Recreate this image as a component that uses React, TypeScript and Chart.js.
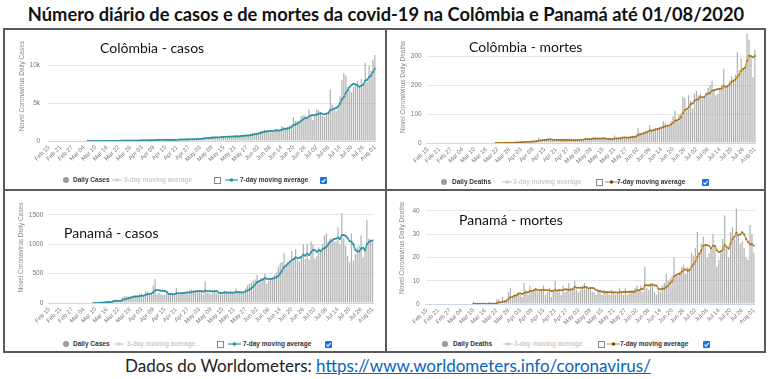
import React, { useEffect, useRef } from "react";
import { Chart, registerables } from "chart.js";
Chart.register(...registerables);

// ---------- categories ----------
const MONTH_SPANS: [string, number, number][] = [
  ["Feb", 15, 29], ["Mar", 1, 31], ["Apr", 1, 30], ["May", 1, 31], ["Jun", 1, 30], ["Jul", 1, 31], ["Aug", 1, 1],
];
const DATES: string[] = [];
MONTH_SPANS.forEach(([m, a, b]) => {
  for (let d = a; d <= b; d++) DATES.push(m + " " + (d < 10 ? "0" + d : String(d)));
});

const X_TICK_LABELS = [
  "Feb 15", "Feb 21", "Feb 27", "Mar 04", "Mar 10", "Mar 16", "Mar 22", "Mar 28", "Apr 03", "Apr 09",
  "Apr 15", "Apr 21", "Apr 27", "May 03", "May 09", "May 15", "May 21", "May 27", "Jun 02", "Jun 08",
  "Jun 14", "Jun 20", "Jun 26", "Jul 02", "Jul 08", "Jul 14", "Jul 20", "Jul 26", "Aug 01",
];

// ---------- Colombia cases ----------
const COL_CASES = [
  0,0,0,0,0,0,0,0,0,0,0,0,0,0,0,
  0,0,0,0,0,1,0,0,2,0,6,0,4,8,15,21,8,37,26,59,14,40,75,72,91,10,22,69,96,24,108,
  94,137,60,110,121,74,100,89,175,208,274,98,178,62,65,145,183,166,202,205,127,246,242,215,214,234,220,207,271,181,
  368,379,336,380,495,431,422,443,595,451,524,389,567,661,680,666,470,586,470,595,752,705,693,726,811,683,709,758,1033,1046,1109,
  1087,1138,1322,1205,1515,1432,1300,1156,1442,1350,1571,1465,1380,2008,1840,1538,1828,2037,2150,3171,2632,2712,2554,3274,3389,3447,3179,4149,3520,2748,
  3300,4163,4038,3745,3290,3172,3384,3983,6744,4800,4400,3900,4600,5900,8000,8900,8600,7100,6700,6400,7100,7400,7900,7300,8200,7500,10300,7800,9900,9200,10700,
  11300,
];
const COL_CASES_MA = [
  null,null,null,null,null,null,null,null,null,null,null,null,null,null,null,
  null,null,null,null,null,0.1,0.1,0.1,0.4,0.4,1.3,1.3,1.7,2.9,5,7.7,8.9,13.3,17,24.9,25.7,29.3,37,46,54,52,46,54,62,55,60,
  60,79,84,90,93,101,99,99,104,125,149,145,160,155,151,147,144,128,143,147,156,182,196,200,207,212,214,225,229,220,
  242,266,280,303,344,367,402,412,443,460,480,465,484,519,552,563,565,574,586,590,603,606,610,647,679,709,726,726,773,824,878,
  918,983,1070,1134,1203,1258,1286,1295,1339,1343,1395,1388,1381,1482,1579,1593,1661,1728,1826,2082,2171,2295,2441,2647,2840,3026,3027,3243,3359,3387,
  3390,3501,3585,3666,3543,3494,3585,3682,4051,4160,4253,4340,4544,4904,5478,5786,6329,6714,7114,7371,7543,7457,7314,7129,7286,7400,7957,8057,8414,8600,9086,
  9529,
];

// ---------- Colombia deaths ----------
const COL_DEATHS = [
  0,0,0,0,0,0,0,0,0,0,0,0,0,0,0,
  0,0,0,0,0,0,0,0,0,0,0,0,0,0,0,0,0,0,0,0,1,1,1,0,0,3,0,0,0,3,4,
  2,3,6,3,5,6,4,4,8,8,8,20,10,11,12,10,14,13,9,8,6,13,15,10,11,10,7,8,9,12,
  14,10,14,11,13,19,13,11,16,21,16,13,17,13,15,15,11,14,14,14,26,15,16,18,23,20,16,19,24,26,20,
  30,52,36,33,38,43,40,62,45,49,51,48,55,57,75,68,60,58,76,93,111,80,97,102,160,155,110,165,146,118,
  170,180,165,170,150,160,175,190,200,215,185,165,170,185,200,256,195,200,212,230,210,235,314,250,293,255,262,377,356,302,227,
  322,
];
const COL_DEATHS_MA = [
  null,null,null,null,null,null,null,null,null,null,null,null,null,null,null,
  null,null,null,null,null,null,null,null,null,null,null,null,null,null,null,null,null,null,null,null,0.1,0.3,0.4,0.4,0.4,0.9,0.9,0.7,0.6,0.9,1.4,
  1.7,1.7,2.6,3,3.7,4.1,4.1,4.4,5.1,5.4,6.1,8.3,8.9,9.9,11,11.3,12.1,12.9,11.3,11,10.3,10.4,11.1,10.6,10.3,10.4,10.3,10.6,10,9.6,
  10.1,10,10.6,11.1,11.9,13.3,13.4,13,13.9,14.9,15.6,15.6,15.3,15.3,15.9,15.7,14.3,14,14.1,13.7,15.6,15.6,15.7,16.7,18,18.9,19.1,18.1,19.4,20.9,21.1,
  22.1,26.7,29.6,31.6,33.6,36,38.9,43.4,42.4,44.3,46.9,48.3,50,52.4,54.3,57.6,59.1,60.1,64.1,69.6,77.3,78,82.1,88.1,102.7,114,116.4,124.1,133.6,136.6,
  146.3,149.1,150.6,159.1,157,159,167.1,170,172.9,180,182.1,184.3,185.7,187.1,188.6,196.6,193.7,195.9,202.6,211.1,214.7,219.7,228,235.9,249.1,255.3,259.9,283.7,301,299.3,296,
  300.1,
];

// ---------- Panama cases ----------
const PAN_CASES = [
  0,0,0,0,0,0,0,0,0,0,0,0,0,0,0,
  0,0,0,0,0,0,0,0,1,7,6,13,16,12,14,40,7,32,49,63,45,32,32,98,115,115,112,112,112,96,124,
  106,154,165,115,201,190,148,150,295,410,150,171,150,140,145,170,160,150,140,130,255,150,170,180,165,190,160,230,225,215,
  200,180,195,190,140,365,180,170,150,200,200,170,175,160,150,210,190,185,180,160,165,245,175,170,160,200,250,300,330,350,380,
  400,477,360,420,420,500,330,380,420,440,480,520,620,680,700,846,620,700,720,880,760,920,720,700,800,1000,750,1005,740,1050,
  1000,760,800,950,870,1000,1150,1190,1050,1100,1100,1050,1050,1290,1000,1530,1100,980,800,700,1190,720,830,950,980,1150,780,900,1420,1100,1080,
  1040,
];
const PAN_CASES_MA = [
  null,null,null,null,null,null,null,null,null,null,null,null,null,null,null,
  null,null,null,null,null,null,null,null,0.1,1.1,2,3.9,6.1,7.9,9.9,15.4,15.4,19.1,24.3,31,35.7,38.3,37.1,50.1,62,71.4,78.4,88,99.4,108.6,112.3,
  111,116.6,124.1,124.6,137.3,150.7,154.1,160.4,180.6,215.6,220.6,216.3,210.6,209.4,208.7,190.9,155.1,155.1,150.7,147.9,164.3,165,165,167.9,170,177.1,181.4,177.9,188.6,195,
  197.9,200,200.7,205,192.1,212.1,207.1,202.9,198.6,199.3,200.7,205,177.9,175,172.1,180.7,179.3,177.1,178.6,176.4,177.1,190.7,185.7,182.9,179.3,182.1,195,214.3,226.4,251.4,281.4,
  315.7,355.3,371,388.1,401,422.4,415.3,412.4,404.3,415.7,424.3,438.6,455.7,505.7,551.4,612.3,638,669.4,698,735.1,746.6,778,760,771.4,785.7,825.7,807.1,842.1,816.4,863.6,
  906.4,900.7,872.1,900.7,881.4,918.6,932.9,960,1001.4,1044.3,1065.7,1090,1097.1,1117.1,1090,1158.6,1158.6,1141.4,1105.7,1055.7,1041.4,1001.4,901.4,880,880,930,941.4,900,1000,1038.6,1057.1,
  1065.7,
];

// ---------- Panama deaths ----------
const PAN_DEATHS = [
  0,0,0,0,0,0,0,0,0,0,0,0,0,0,0,
  0,0,0,0,0,0,0,0,0,1,0,0,0,0,0,0,0,1,0,0,0,2,2,0,3,1,2,5,7,3,4,
  4,5,4,3,9,6,4,8,5,6,7,5,6,6,8,4,5,7,3,6,10,5,6,4,8,5,6,9,6,7,
  10,6,5,6,8,9,7,6,7,5,5,4,6,6,4,6,5,5,4,6,5,4,5,7,5,4,7,4,5,5,6,
  7,8,6,8,5,16,7,6,9,8,5,4,7,5,8,9,13,10,11,12,20,12,12,14,16,17,13,16,15,22,
  21,24,31,22,26,29,25,20,22,24,30,25,16,19,22,28,38,24,20,31,33,28,41,30,26,27,24,20,19,34,30,
  22,
];
const PAN_DEATHS_MA = [
  null,null,null,null,null,null,null,null,null,null,null,null,null,null,null,
  null,null,null,null,null,null,null,null,null,0.1,0.1,0.1,0.1,0.1,0.1,0.1,0,0.1,0.1,0.1,0.1,0.4,0.7,0.7,1,1.1,1.4,2.1,2.9,3,3.6,
  3.7,4.3,4.6,4.3,4.6,5,5,5.6,5.6,5.9,6.4,5.9,5.9,6.1,6.1,6,5.9,5.9,5.6,5.6,6.1,5.7,6,5.9,6,6.3,6.3,6.1,6.3,6.4,
  7.3,7,7,7,6.9,7.3,7.3,6.7,6.9,6.9,6.7,6.1,5.7,5.6,5.3,5.1,5.1,5.1,5.1,5.1,5,5,4.9,5.1,5.1,5.1,5.3,5.1,5.3,5.3,5.1,
  5.4,6,5.9,6.4,6.4,8,8.1,8,8.1,8.4,8,7.9,6.6,6.3,6.6,6.6,7.3,8,9,9.7,11.9,12.4,12.9,13,13.9,14.7,14.9,14.3,14.7,16.1,
  17.1,18.3,20.3,21.6,23,25,25.4,25.3,25,24,25.1,25,23.1,22.3,22.6,23.4,25.4,24.6,23.9,26,28,28.9,30.7,29.6,29.9,30.9,29.9,28,26.7,25.7,25.7,
  25.1,
];

// ---------- y ticks ----------
const COL_CASES_Y_TICKS = [0, 5000, 10000];
const COL_CASES_Y_LABELS = ["0", "5k", "10k"];
const COL_DEATHS_Y_TICKS = [0, 100, 200, 300];
const COL_DEATHS_Y_LABELS = ["0", "100", "200", "300"];
const PAN_CASES_Y_TICKS = [0, 500, 1000, 1500];
const PAN_CASES_Y_LABELS = ["0", "500", "1000", "1500"];
const PAN_DEATHS_Y_TICKS = [0, 10, 20, 30, 40];
const PAN_DEATHS_Y_LABELS = ["0", "10", "20", "30", "40"];

const CASES_LINE = "#3ba2b5";
const CASES_POINT = "#2a8da1";
const DEATHS_LINE = "#e0a33c";
const DEATHS_POINT = "#8e6a2c";
const SMALL_FONT = "'Liberation Sans', Arial, sans-serif";
const LABEL_FONT = "Lato, 'Open Sans', sans-serif";

type PanelCfg = {
  left: number; top: number; width: number; height: number;
  yWidth: number; xHeight: number; padRight: number; yMax: number;
  yTicks: number[]; yLabels: string[]; yTitle: string; titleOffset: number; tickPad: number;
  daily: number[]; ma: (number | null)[]; lineColor: string; pointColor: string;
};

function ChartPanel({ c }: { c: PanelCfg }) {
  const ref = useRef<HTMLCanvasElement>(null);
  useEffect(() => {
    const chart = new Chart(ref.current as HTMLCanvasElement, {
      data: {
        labels: DATES,
        datasets: [
          {
            type: "line",
            data: c.ma as any,
            borderColor: c.lineColor,
            backgroundColor: c.pointColor,
            borderWidth: 1.6,
            pointRadius: 0.9,
            pointBorderWidth: 0,
            pointBackgroundColor: c.pointColor,
            tension: 0,
            order: 0,
          } as any,
          {
            type: "bar",
            data: c.daily,
            backgroundColor: "#b0b0b0",
            barPercentage: 0.62,
            categoryPercentage: 1,
            order: 1,
          } as any,
        ],
      },
      options: {
        animation: false,
        responsive: false,
        maintainAspectRatio: false,
        layout: { padding: { left: 0, right: c.padRight, top: 0, bottom: 0 } },
        plugins: { legend: { display: false }, tooltip: { enabled: false } },
        scales: {
          x: {
            type: "category",
            offset: true,
            grid: { display: false, drawTicks: false },
            border: { display: true, color: "#ccd6eb" },
            afterFit: (s: any) => { s.height = c.xHeight; },
            ticks: {
              autoSkip: false,
              minRotation: 45,
              maxRotation: 45,
              padding: 3,
              color: "#777",
              font: { family: SMALL_FONT, size: 6 },
              callback: (_v: any, i: number) => (X_TICK_LABELS.includes(DATES[i]) ? DATES[i] : ""),
            },
          },
          y: {
            min: 0,
            max: c.yMax,
            afterBuildTicks: (s: any) => { s.ticks = c.yTicks.map((v) => ({ value: v })); },
            afterFit: (s: any) => { s.width = c.yWidth; },
            grid: { color: "#e6e6e6", drawTicks: false },
            border: { display: false },
            ticks: {
              padding: c.tickPad,
              color: "#777",
              font: { family: SMALL_FONT, size: 6.5 },
              callback: (v: any) => {
                const k = c.yTicks.indexOf(Number(v));
                return k >= 0 ? c.yLabels[k] : "";
              },
            },
            title: {
              display: true,
              text: c.yTitle,
              color: "#888",
              font: { family: SMALL_FONT, size: 6.5 },
              padding: { top: c.titleOffset, bottom: 0 },
            },
          },
        },
      } as any,
    });
    return () => chart.destroy();
  }, []);
  return (
    <canvas
      ref={ref}
      width={c.width}
      height={c.height}
      style={{ position: "absolute", left: c.left, top: c.top, width: c.width, height: c.height }}
    />
  );
}

type LegendCfg = { y: number; xs: number[]; first: string; lineColor: string; markColor: string };

function Legend({ l }: { l: LegendCfg }) {
  const txt: React.CSSProperties = {
    position: "absolute", top: l.y - 4, lineHeight: "8px", fontFamily: SMALL_FONT,
    fontSize: 6.5, fontWeight: 700, whiteSpace: "nowrap",
  };
  return (
    <>
      <div style={{ position: "absolute", left: l.xs[0] - 3, top: l.y - 3, width: 6, height: 6, borderRadius: 3, background: "#9a9a9a" }} />
      <span style={{ ...txt, left: l.xs[1], color: "#333" }}>{l.first}</span>
      <svg style={{ position: "absolute", left: l.xs[2], top: l.y - 3 }} width={10} height={6}>
        <line x1={0} y1={3} x2={10} y2={3} stroke="#cccccc" strokeWidth={1.2} />
        <circle cx={5} cy={3} r={1.8} fill="#cccccc" />
      </svg>
      <span style={{ ...txt, left: l.xs[3], color: "#cccccc" }}>3-day moving average</span>
      <div style={{ position: "absolute", left: l.xs[4], top: l.y - 3, width: 5, height: 5, border: "1px solid #888", background: "#fff" }} />
      <svg style={{ position: "absolute", left: l.xs[5], top: l.y - 3 }} width={13} height={6}>
        <line x1={0} y1={3} x2={13} y2={3} stroke={l.lineColor} strokeWidth={1.3} />
        <circle cx={6.5} cy={3} r={1.8} fill={l.markColor} />
      </svg>
      <span style={{ ...txt, left: l.xs[6], color: "#333" }}>7-day moving average</span>
      <svg style={{ position: "absolute", left: l.xs[7], top: l.y - 3.5 }} width={7} height={7}>
        <rect x={0} y={0} width={7} height={7} rx={1} fill="#1f6fe0" />
        <path d="M1.5 3.6 L3 5.1 L5.6 2" stroke="#fff" strokeWidth={1.1} fill="none" />
      </svg>
    </>
  );
}

// chart-area top = canvas top + (tick label half-height 3.9 + tick padding)
const PANELS: PanelCfg[] = [
  {
    left: 6, top: 19, width: 377, height: 151, yWidth: 42, xHeight: 29, padRight: 6.5, yMax: 14487,
    yTicks: COL_CASES_Y_TICKS, yLabels: COL_CASES_Y_LABELS, yTitle: "Novel Coronavirus Daily Cases",
    titleOffset: 12, tickPad: 8, daily: COL_CASES, ma: COL_CASES_MA, lineColor: CASES_LINE, pointColor: CASES_POINT,
  },
  {
    left: 390, top: 22, width: 373, height: 148, yWidth: 36.7, xHeight: 27, padRight: 5.5, yMax: 386.6,
    yTicks: COL_DEATHS_Y_TICKS, yLabels: COL_DEATHS_Y_LABELS, yTitle: "Novel Coronavirus Daily Deaths",
    titleOffset: 9.4, tickPad: 5, daily: COL_DEATHS, ma: COL_DEATHS_MA, lineColor: DEATHS_LINE, pointColor: DEATHS_POINT,
  },
  {
    left: 6, top: 183, width: 377, height: 147, yWidth: 42.3, xHeight: 27, padRight: 9.4, yMax: 1893,
    yTicks: PAN_CASES_Y_TICKS, yLabels: PAN_CASES_Y_LABELS, yTitle: "Novel Coronavirus Daily Cases",
    titleOffset: 11.8, tickPad: 5, daily: PAN_CASES, ma: PAN_CASES_MA, lineColor: CASES_LINE, pointColor: CASES_POINT,
  },
  {
    left: 390, top: 182, width: 372, height: 148, yWidth: 35.7, xHeight: 26, padRight: 2, yMax: 48.2,
    yTicks: PAN_DEATHS_Y_TICKS, yLabels: PAN_DEATHS_Y_LABELS, yTitle: "Novel Coronavirus Daily Deaths",
    titleOffset: 8.1, tickPad: 6, daily: PAN_DEATHS, ma: PAN_DEATHS_MA, lineColor: DEATHS_LINE, pointColor: DEATHS_POINT,
  },
];

const LEGENDS: LegendCfg[] = [
  { y: 180, xs: [66, 73, 112, 124, 214, 225, 240, 320], first: "Daily Cases", lineColor: CASES_LINE, markColor: CASES_POINT },
  { y: 182, xs: [444, 452, 502, 513, 596, 605, 617, 702], first: "Daily Deaths", lineColor: DEATHS_LINE, markColor: "#6b4e1e" },
  { y: 344, xs: [66, 73, 114, 127, 217, 228, 243, 325], first: "Daily Cases", lineColor: CASES_LINE, markColor: CASES_POINT },
  { y: 344, xs: [445, 453, 503, 514, 598, 607, 620, 703], first: "Daily Deaths", lineColor: DEATHS_LINE, markColor: "#6b4e1e" },
];

const PANEL_LABELS = [
  { text: "Colômbia - casos", left: 100, top: 39 },
  { text: "Colômbia - mortes", left: 469, top: 38 },
  { text: "Panamá - casos", left: 64, top: 224 },
  { text: "Panamá - mortes", left: 459, top: 211 },
];

const BORDER = "#5a5a5a";

export default function App() {
  const line = (left: number, top: number, width: number, height: number) => (
    <div style={{ position: "absolute", left, top, width, height, background: BORDER }} />
  );
  return (
    <div style={{ position: "absolute", left: 0, top: 0, width: 768, height: 379, background: "#fff", overflow: "hidden" }}>
      <div
        style={{
          position: "absolute", left: 2, top: 2, width: 768, textAlign: "center", fontFamily: LABEL_FONT,
          fontWeight: 700, fontSize: 18.3, lineHeight: "24px", color: "#111", whiteSpace: "nowrap",
        }}
      >
        Número diário de casos e de mortes da covid-19 na Colômbia e Panamá até 01/08/2020
      </div>
      {PANELS.map((p, i) => <ChartPanel key={i} c={p} />)}
      {LEGENDS.map((l, i) => <Legend key={i} l={l} />)}
      {PANEL_LABELS.map((t, i) => (
        <div
          key={i}
          style={{
            position: "absolute", left: t.left, top: t.top, fontFamily: LABEL_FONT, fontSize: 14,
            lineHeight: "18px", color: "#111", whiteSpace: "nowrap",
          }}
        >
          {t.text}
        </div>
      ))}
      {line(4, 28, 761, 2)}
      {line(4, 189, 761, 2)}
      {line(4, 351, 761, 2)}
      {line(3, 28, 2, 325)}
      {line(385, 28, 2, 325)}
      {line(764, 28, 2, 325)}
      <div
        style={{
          position: "absolute", left: 0, top: 355, width: 776, textAlign: "center", fontFamily: LABEL_FONT,
          fontSize: 17, lineHeight: "22px", color: "#222", whiteSpace: "nowrap",
        }}
      >
        Dados do Worldometers:{" "}
        <a href="https://www.worldometers.info/coronavirus/" style={{ color: "#0563c1", textDecoration: "underline" }}>
          https://www.worldometers.info/coronavirus/
        </a>
      </div>
    </div>
  );
}
